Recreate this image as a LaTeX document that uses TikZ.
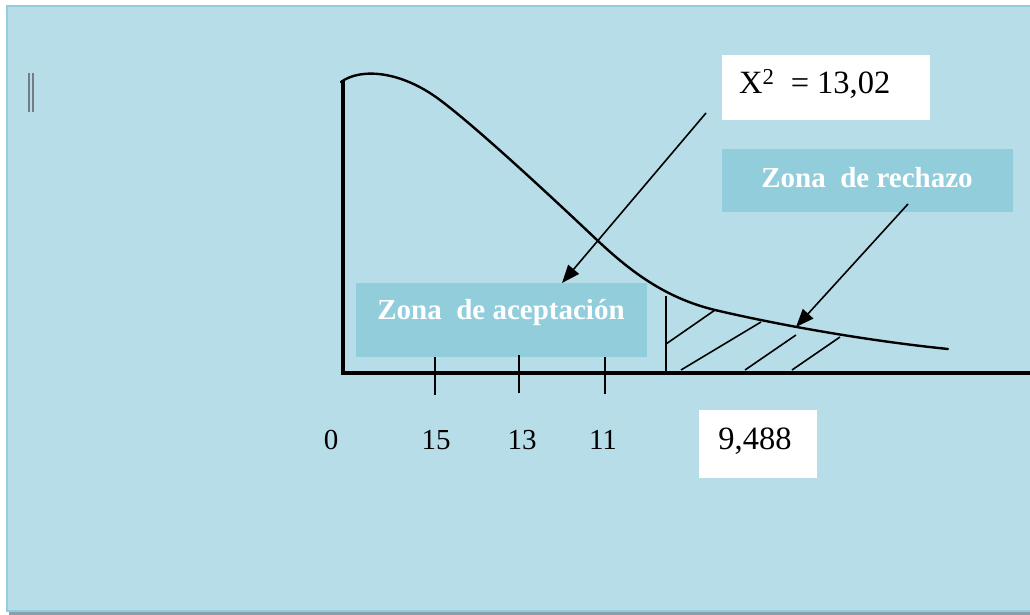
\documentclass[tikz,border=0pt]{standalone}
\usepackage{fontspec}
\setmainfont{Liberation Serif}
\usetikzlibrary{arrows.meta}
\definecolor{bgblue}{HTML}{B7DDE8}
\definecolor{zoneblue}{HTML}{92CDDC}
\definecolor{framegray}{HTML}{8E9EA8}
\begin{document}
\begin{tikzpicture}[x=1pt,y=-1pt,
  zonebox/.style={fill=zoneblue, draw=none, inner sep=0pt},
  whitebox/.style={fill=white, draw=none, inner sep=0pt},
  zonetext/.style={text=white, font=\fontsize{29}{34}\selectfont\bfseries, inner sep=0pt},
  numtext/.style={text=black, font=\fontsize{29}{34}\selectfont, inner sep=0pt},
  bignum/.style={text=black, font=\fontsize{32.5}{38}\selectfont, inner sep=0pt},
  thin line/.style={line width=1.6pt},
  pointer/.style={line width=1.6pt, -{Triangle[length=18pt,width=14pt]}}]
\useasboundingbox (0,0) rectangle (1030,615);
\fill[white] (0,0) rectangle (1030,615);
\fill[framegray] (9,610) rectangle (1030,615);
\filldraw[fill=bgblue, draw=zoneblue, line width=1.2pt] (7,6) rectangle (1034,611);
% small double bar
\draw[framegray!80!black, line width=1.3pt] (29,73) -- (29,112) (33,73) -- (33,112);
% boxes
\node[zonebox, minimum width=291pt, minimum height=74pt] (acc) at (501.5,320) {};
\node[zonetext] (acct) at (501,313) {Zona\ \ de aceptación};
\node[zonebox, minimum width=291pt, minimum height=63pt] (rech) at (867.5,180.5) {};
\node[zonetext] (recht) at (867,178) {Zona\ \ de rechazo};
\node[whitebox, minimum width=208pt, minimum height=65pt] (chi) at (826,87.5) {};
\node[bignum, anchor=west] (chit) at (739,84) {X\textsuperscript{2}\ \ = 13,02};
\node[whitebox, minimum width=118pt, minimum height=68pt] (crit) at (758,444) {};
\node[bignum] (critt) at (755,441) {9,488};
% axes
\draw[line width=3.5pt] (343,80) -- (343,373) -- (1030,373);
% curve
\draw[line width=2.4pt, line cap=round]
  (341,82) .. controls (360,68) and (400,70) .. (440,100)
           .. controls (480,130) and (560,205) .. (597,240)
           .. controls (630,271) and (665,298) .. (715,310)
           .. controls (770,323) and (860,340) .. (948,349);
% ticks
\draw[thin line] (435,357) -- (435,395);
\draw[thin line] (519,355) -- (519,393);
\draw[thin line] (605,357) -- (605,394);
% tick labels
\node[numtext] (l0) at (331,440) {0};
\node[numtext] (l15) at (436,440) {15};
\node[numtext] (l13) at (522,440) {13};
\node[numtext] (l11) at (603,440) {11};
% critical line and hatching
\draw[thin line] (666,296) -- (666,373);
\draw[thin line] (666,344) -- (715,310);
\draw[thin line] (681,370) -- (761,322);
\draw[thin line] (745,370) -- (796,335);
\draw[thin line] (792,370) -- (840,337);
% arrows
\coordinate (a1s) at (706,113);
\coordinate (a1e) at (562,283);
\coordinate (a2s) at (908,204);
\coordinate (a2e) at (796,327);
\draw[pointer] (a1s) -- (a1e);
\draw[pointer] (a2s) -- (a2e);
\end{tikzpicture}
\end{document}
